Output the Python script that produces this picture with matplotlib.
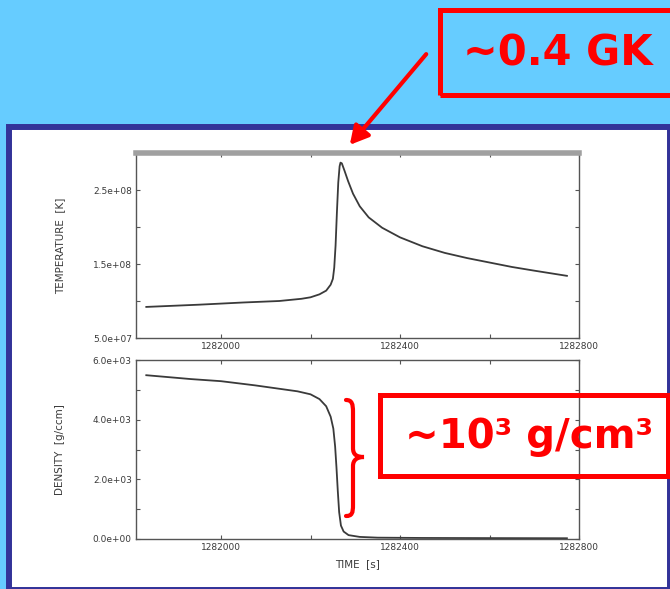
import numpy as np
import matplotlib
matplotlib.use("Agg")
import matplotlib.pyplot as plt
from matplotlib.patches import Rectangle, FancyArrowPatch, PathPatch
from matplotlib.path import Path

# values
time_T = [1281833, 1281950, 1282050, 1282130, 1282180, 1282200, 1282220, 1282235,
          1282245, 1282250, 1282253, 1282256, 1282259, 1282262, 1282265, 1282267,
          1282270, 1282276, 1282284, 1282295, 1282310, 1282330, 1282360, 1282400,
          1282450, 1282500, 1282550, 1282600, 1282650, 1282700, 1282773]
temperature = [9.2e7, 9.5e7, 9.8e7, 1.0e8, 1.03e8, 1.05e8, 1.09e8, 1.14e8,
               1.22e8, 1.30e8, 1.45e8, 1.75e8, 2.2e8, 2.6e8, 2.82e8, 2.87e8,
               2.86e8, 2.76e8, 2.62e8, 2.45e8, 2.28e8, 2.13e8, 1.99e8, 1.86e8,
               1.74e8, 1.65e8, 1.58e8, 1.52e8, 1.46e8, 1.41e8, 1.34e8]

time_rho = [1281833, 1281933, 1282000, 1282076, 1282171, 1282200, 1282220, 1282235,
            1282245, 1282251, 1282255, 1282258, 1282261, 1282264, 1282268, 1282274,
            1282285, 1282310, 1282350, 1282450, 1282600, 1282773]
density = [5490, 5360, 5290, 5150, 4950, 4850, 4690, 4450,
           4100, 3700, 3100, 2400, 1600, 900, 450, 250,
           130, 70, 45, 35, 30, 25]

x_ticks = [1282000, 1282200, 1282400, 1282600, 1282800]
x_labels = ["1282000", "", "1282400", "", "1282800"]
T_ticks = [5e7, 1e8, 1.5e8, 2e8, 2.5e8, 3e8]
T_labels = ["5.0e+07", "", "1.5e+08", "", "2.5e+08", ""]
rho_ticks = [0, 1000, 2000, 3000, 4000, 5000, 6000]
rho_labels = ["0.0e+00", "", "2.0e+03", "", "4.0e+03", "", "6.0e+03"]

W, H = 670, 589
fig = plt.figure(figsize=(W / 100, H / 100), dpi=100)
fig.patch.set_facecolor("#66CCFF")


def fx(px):
    return px / W


def fy(py):
    return 1 - py / H


# white panel with dark blue frame
panel = Rectangle((fx(9), fy(590)), fx(670) - fx(9), fy(127) - fy(590),
                  transform=fig.transFigure, facecolor="white",
                  edgecolor="#333399", linewidth=4.3, zorder=-5)
fig.patches.append(panel)

ink = "#3a3a3a"


def style(ax):
    for s in ax.spines.values():
        s.set_color("#555555")
        s.set_linewidth(1.0)
    ax.tick_params(direction="in", top=True, right=True, length=3, width=0.8,
                   colors="#555555", labelcolor=ink, labelsize=6.5, pad=3)
    ax.set_facecolor("none")


ax1 = fig.add_axes([fx(136), fy(338), fx(579) - fx(136), fy(153) - fy(338)])
ax1.plot(time_T, temperature, color=ink, lw=1.3)
ax1.set_xlim(1281810, 1282800)
ax1.set_ylim(5e7, 3e8)
ax1.set_xticks(x_ticks, x_labels)
ax1.set_yticks(T_ticks, T_labels)
style(ax1)
ax1.spines["top"].set_linewidth(4)
ax1.spines["top"].set_color("#a0a0a0")
ax1.set_ylabel("TEMPERATURE  [K]", fontsize=7.5, color=ink, labelpad=20)

ax2 = fig.add_axes([fx(136), fy(539), fx(579) - fx(136), fy(360) - fy(539)])
ax2.plot(time_rho, density, color=ink, lw=1.3)
ax2.set_xlim(1281810, 1282800)
ax2.set_ylim(0, 6000)
ax2.set_xticks(x_ticks, x_labels)
ax2.set_yticks(rho_ticks, rho_labels)
style(ax2)
ax2.set_ylabel("DENSITY  [g/ccm]", fontsize=7.5, color=ink, labelpad=20)
ax2.set_xlabel("TIME  [s]", fontsize=7.5, color=ink, labelpad=5)

red = "#FF0000"

# red boxes with annotations
box1 = Rectangle((fx(440), fy(95)), fx(672) - fx(440), fy(10) - fy(95),
                 transform=fig.transFigure, facecolor="none", edgecolor=red,
                 linewidth=3.6, zorder=5)
box2 = Rectangle((fx(380), fy(476)), fx(668) - fx(380), fy(395) - fy(476),
                 transform=fig.transFigure, facecolor="none", edgecolor=red,
                 linewidth=3.6, zorder=5)
fig.patches.extend([box1, box2])

fig.text(fx(558), fy(53), "~0.4 GK", color=red, fontsize=30, fontweight="bold",
         ha="center", va="center", zorder=6)
fig.text(fx(529), fy(437), "~10³ g/cm³", color=red, fontsize=29, fontweight="bold",
         ha="center", va="center", zorder=6)

arrow = FancyArrowPatch((fx(428), fy(52)), (fx(348), fy(147)),
                        transform=fig.transFigure, arrowstyle="-|>,head_length=11,head_width=6",
                        mutation_scale=1, color=red, linewidth=3, zorder=6)
fig.patches.append(arrow)

# curly brace
pts = [(346, 400), (352, 400), (353, 404), (353, 412),
       (353, 448),
       (353, 455), (357, 457), (364, 457),
       (357, 457), (353, 460), (353, 466),
       (353, 505),
       (353, 513), (352, 516), (346, 516)]
codes = [Path.MOVETO, Path.CURVE4, Path.CURVE4, Path.CURVE4,
         Path.LINETO,
         Path.CURVE4, Path.CURVE4, Path.CURVE4,
         Path.CURVE4, Path.CURVE4, Path.CURVE4,
         Path.LINETO,
         Path.CURVE4, Path.CURVE4, Path.CURVE4]
brace = PathPatch(Path([(fx(x), fy(y)) for x, y in pts], codes),
                  transform=fig.transFigure, facecolor="none", edgecolor=red,
                  linewidth=3, capstyle="round", zorder=6)
fig.patches.append(brace)

fig.savefig("out.png", dpi=100, facecolor=fig.get_facecolor())
